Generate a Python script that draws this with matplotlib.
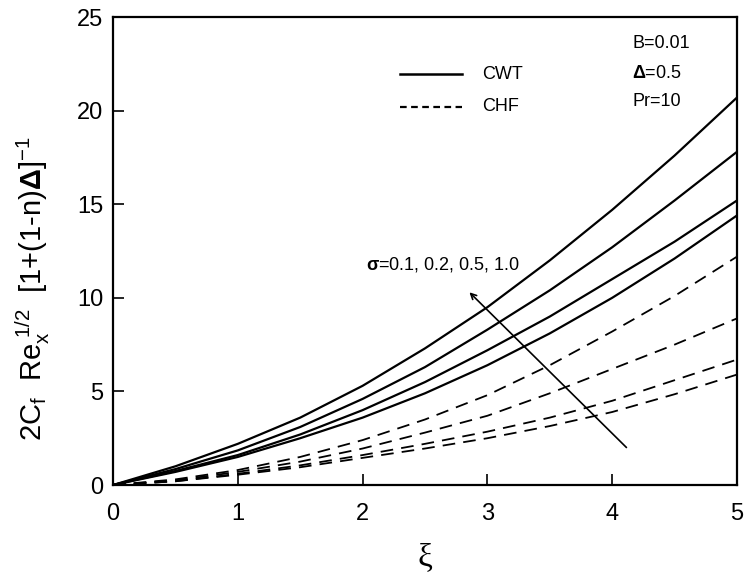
import numpy as np
import matplotlib
matplotlib.use("Agg")
import matplotlib.pyplot as plt

plt.rcParams['font.family'] = ['Liberation Sans', 'DejaVu Sans']
plt.rcParams['mathtext.fontset'] = 'custom'
plt.rcParams['mathtext.rm'] = 'Liberation Sans'
plt.rcParams['mathtext.it'] = 'Liberation Sans:italic'
plt.rcParams['mathtext.bf'] = 'Liberation Sans:bold'

# values
xi = [0, 0.5, 1, 1.5, 2, 2.5, 3, 3.5, 4, 4.5, 5]
cwt = [
    [0, 1.0, 2.2, 3.6, 5.3, 7.3, 9.5, 12.0, 14.7, 17.6, 20.7],
    [0, 0.85, 1.85, 3.1, 4.6, 6.3, 8.3, 10.4, 12.7, 15.2, 17.8],
    [0, 0.75, 1.6, 2.7, 4.0, 5.5, 7.2, 9.0, 11.0, 13.0, 15.2],
    [0, 0.7, 1.5, 2.5, 3.6, 4.9, 6.4, 8.1, 10.0, 12.1, 14.4],
]
chf = [
    [0, 0.3, 0.8, 1.5, 2.4, 3.5, 4.8, 6.4, 8.2, 10.1, 12.2],
    [0, 0.25, 0.7, 1.25, 1.95, 2.8, 3.7, 4.9, 6.2, 7.5, 8.9],
    [0, 0.2, 0.6, 1.05, 1.6, 2.2, 2.85, 3.6, 4.5, 5.6, 6.7],
    [0, 0.2, 0.55, 0.95, 1.45, 1.95, 2.5, 3.15, 3.9, 4.85, 5.9],
]

fig = plt.figure(figsize=(7.47, 5.81), dpi=100)
ax = fig.add_axes([0.1513, 0.1652, 0.8353, 0.8055])

for y in cwt:
    ax.plot(xi, y, color='black', lw=1.6)
for y in chf:
    ax.plot(xi, y, color='black', lw=1.3, dashes=(7, 4.5))

ax.set_xlim(0, 5)
ax.set_ylim(0, 25)
ax.set_xticks([0, 1, 2, 3, 4, 5])
ax.set_yticks([0, 5, 10, 15, 20, 25])
ax.tick_params(direction='in', length=8, width=1.2, labelsize=17,
               top=False, right=False)
ax.tick_params(axis='y', pad=7)
ax.tick_params(axis='x', pad=13)
for s in ax.spines.values():
    s.set_linewidth(1.6)

ax.set_xlabel('ξ', fontsize=24, family=['Liberation Serif', 'DejaVu Serif'])
ax.xaxis.set_label_coords(0.5, -0.122)
ax.set_ylabel(r'2C$_\mathrm{f}$  Re$_\mathrm{x}^{\ \mathrm{1/2}}$  [1+(1-n)$\mathbf{\Delta}$]$^\mathrm{-1}$',
              fontsize=21)
ax.yaxis.set_label_coords(-0.098, 0.42)

# legend drawn by hand in data coordinates
ax.plot([2.3, 2.8], [21.95, 21.95], color='black', lw=1.8)
ax.plot([2.3, 2.8], [20.2, 20.2], color='black', lw=1.6, dashes=(3, 2))
ax.text(2.96, 21.95, 'CWT', fontsize=13, va='center')
ax.text(2.96, 20.2, 'CHF', fontsize=13, va='center')

ax.text(4.16, 23.6, 'B=0.01', fontsize=13, va='center')
ax.text(4.16, 22.0, r'$\mathbf{\Delta}$=0.5', fontsize=13, va='center')
ax.text(4.16, 20.5, 'Pr=10', fontsize=13, va='center')

ax.annotate('', xy=(2.84, 10.4), xytext=(4.13, 1.9),
            arrowprops=dict(arrowstyle='->', color='black', lw=1.2))
ax.text(2.03, 11.8, r'$\mathbf{\sigma}$=0.1, 0.2, 0.5, 1.0', fontsize=13, va='center')

fig.savefig('out.png', dpi=100)
